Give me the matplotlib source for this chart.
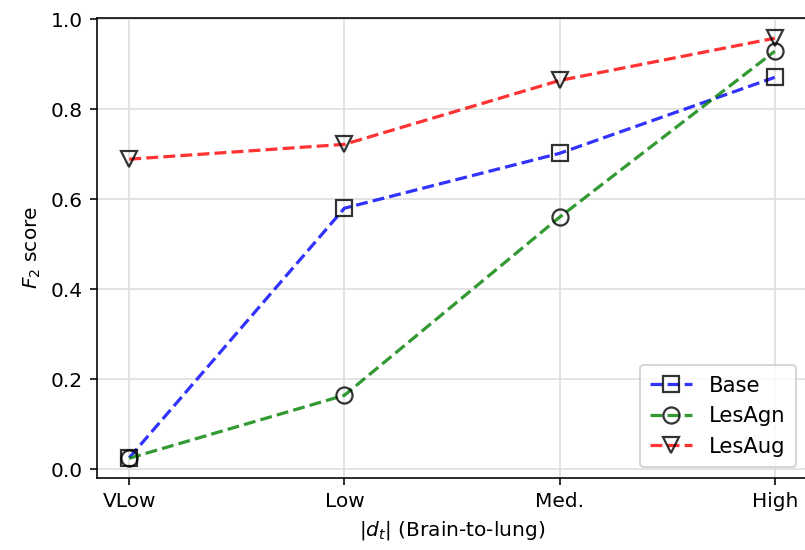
#!/usr/bin/env python
import matplotlib
matplotlib.use("Agg")
import matplotlib.pyplot as plt

DPI = 145

# Data
categories = ["VLow", "Low", "Med.", "High"]
base = [0.025, 0.58, 0.702, 0.871]
les_agn = [0.024, 0.164, 0.56, 0.929]
les_aug = [0.689, 0.722, 0.864, 0.958]

series = [
    ("Base", base, "b", "s"),
    ("LesAgn", les_agn, "g", "o"),
    ("LesAug", les_aug, "r", "v"),
]

fig = plt.figure(figsize=(805 / DPI, 550 / DPI), dpi=DPI)
ax = fig.add_axes([0.1205, 0.1309, 0.882, 0.8364])

x = list(range(len(categories)))
for label, values, color, marker in series:
    ax.plot(x, values, linestyle="--", color=color, marker=marker,
            markersize=8, markerfacecolor="none", markeredgecolor="k",
            markeredgewidth=1.1, linewidth=1.6, alpha=0.8, label=label)

ax.set_xticks(x)
ax.set_xticklabels(categories)
ax.set_xlim(-0.15, 3.15)
ax.set_ylim(-0.02, 1.003)
ax.set_xlabel(r"|$d_t$| (Brain-to-lung)")
ax.set_ylabel(r"$F_2$ score")
ax.grid(True, color="#dddddd")
ax.legend(loc="lower right", fontsize=10.5, borderpad=0.5)

fig.savefig("out.png", dpi=DPI)
